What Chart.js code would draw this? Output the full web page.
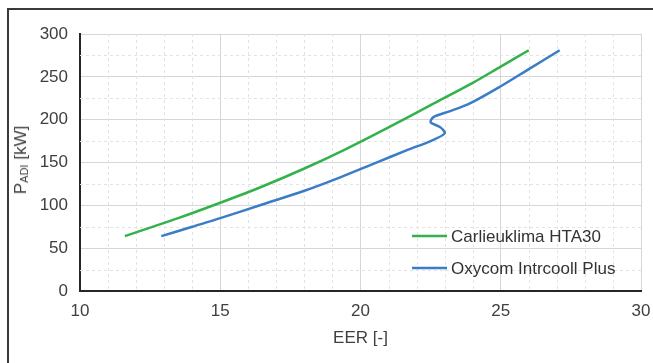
<!DOCTYPE html>
<html>
<head>
<meta charset="utf-8">
<script src="https://cdn.jsdelivr.net/npm/chart.js@4/dist/chart.umd.min.js"></script>
<style>
  html, body { margin: 0; padding: 0; background: #fff; }
  #wrap { position: relative; width: 653px; height: 363px; overflow: hidden; }
  #frame { position: absolute; left: 7px; top: 8px; width: 700px; height: 400px;
           border-left: 2px solid #3a3a3a; border-top: 2px solid #3a3a3a; }
  #ytitle { position: absolute; left: 21px; top: 160px; transform: translate(-50%, -50%) rotate(-90deg);
            font: 17px "Liberation Sans", Arial, sans-serif; color: #404040; white-space: nowrap; }
  #ytitle sub { font-size: 11px; vertical-align: -2px; }
  canvas { position: absolute; left: 0; top: 0; }
</style>
</head>
<body>
<div id="wrap">
  <div id="frame"></div>
  <canvas id="perfChart" width="653" height="363"></canvas>
  <div id="ytitle">P<sub>ADI</sub> [kW]</div>
</div>
<script>
// Carlieuklima HTA30
const carlieX = [11.6, 12.5, 13.5, 15.0, 16.5, 18.0, 19.5, 21.0, 22.5, 24.0, 25.0, 26.0];
const carlieY = [64, 74, 85, 103, 122, 143, 166, 191, 217, 243, 262, 281];
// Oxycom Intrcooll Plus (met de knik rond 185-200 kW)
const oxyX = [12.9, 14.0, 15.0, 16.5, 18.0, 19.3, 20.5, 21.7, 22.5, 23.0, 22.85, 22.5, 22.6, 23.2, 23.9, 25.0, 26.0, 27.1];
const oxyY = [64, 75, 85, 101, 117, 133, 149, 165, 175, 184, 191, 197, 203, 210, 219, 239, 259, 281];

const seriesLabels = ['Carlieuklima HTA30', 'Oxycom Intrcooll Plus'];
const xTicks = [10, 15, 20, 25, 30];
const yTicks = [0, 50, 100, 150, 200, 250, 300];
const xMinor = [11, 12, 13, 14, 16, 17, 18, 19, 21, 22, 23, 24, 26, 27, 28, 29];
const yMinor = [25, 75, 125, 175, 225, 275];

const toPoints = (xs, ys) => xs.map((x, i) => ({ x: x, y: ys[i] }));
const font = { family: '"Liberation Sans", Arial, sans-serif', size: 17 };

// stippellijnen tussen de hoofdrasterlijnen
const minorGrid = {
    id: 'minorGrid',
    beforeDatasetsDraw(chart) {
        const { ctx, chartArea, scales } = chart;
        ctx.save();
        ctx.strokeStyle = '#e3e3e3';
        ctx.lineWidth = 1;
        ctx.setLineDash([3, 3]);
        xMinor.forEach(v => {
            const px = Math.round(scales.x.getPixelForValue(v)) + 0.5;
            ctx.beginPath(); ctx.moveTo(px, chartArea.top); ctx.lineTo(px, chartArea.bottom); ctx.stroke();
        });
        yMinor.forEach(v => {
            const py = Math.round(scales.y.getPixelForValue(v)) + 0.5;
            ctx.beginPath(); ctx.moveTo(chartArea.left, py); ctx.lineTo(chartArea.right, py); ctx.stroke();
        });
        ctx.restore();
    }
};

// legenda binnen het grafiekvlak, rechtsonder
const innerLegend = {
    id: 'innerLegend',
    afterDraw(chart) {
        const { ctx, chartArea } = chart;
        ctx.save();
        ctx.font = font.size + 'px ' + font.family;
        ctx.textBaseline = 'middle';
        chart.data.datasets.forEach((ds, i) => {
            const y = chartArea.bottom - 55 + i * 32;
            const x0 = chartArea.left + 332;
            ctx.strokeStyle = ds.borderColor;
            ctx.lineWidth = 2.5;
            ctx.beginPath(); ctx.moveTo(x0, y); ctx.lineTo(x0 + 35, y); ctx.stroke();
            ctx.fillStyle = '#333';
            ctx.fillText(ds.label, x0 + 39, y + 1);
        });
        ctx.restore();
    }
};

const ctx = document.getElementById('perfChart');
new Chart(ctx, {
    type: 'scatter',
    data: {
        datasets: [{
            label: seriesLabels[0],
            data: toPoints(carlieX, carlieY),
            borderColor: '#33b24b',
            showLine: true,
            borderWidth: 2.5,
            pointRadius: 0,
            tension: 0.3
        }, {
            label: seriesLabels[1],
            data: toPoints(oxyX, oxyY),
            borderColor: '#3a7cc6',
            showLine: true,
            borderWidth: 2.5,
            pointRadius: 0,
            tension: 0.3
        }]
    },
    options: {
        responsive: false,
        animation: false,
        devicePixelRatio: 1,
        layout: { padding: { left: 0, right: 12, top: 34, bottom: 10 } },
        plugins: {
            legend: { display: false },
            tooltip: { enabled: false }
        },
        scales: {
            x: {
                type: 'linear',
                min: 10, max: 30,
                afterBuildTicks: s => { s.ticks = xTicks.map(v => ({ value: v })); },
                afterFit: s => { s.height = 62; s.paddingLeft = 0; s.paddingRight = 0; },
                ticks: { font: font, color: '#404040', padding: 10 },
                grid: { color: '#d6d6d6', drawTicks: false },
                border: { color: '#262626', width: 2 },
                title: { display: true, text: 'EER [-]', font: font, color: '#404040', padding: { top: 4, bottom: 4 } }
            },
            y: {
                type: 'linear',
                min: 0, max: 300,
                afterBuildTicks: s => { s.ticks = yTicks.map(v => ({ value: v })); },
                afterFit: s => { s.width = 80; s.paddingTop = 0; s.paddingBottom = 0; },
                ticks: { font: font, color: '#404040', padding: 12 },
                grid: { color: '#d6d6d6', drawTicks: false },
                border: { color: '#262626', width: 2 }
            }
        }
    },
    plugins: [minorGrid, innerLegend]
});
</script>
</body>
</html>
